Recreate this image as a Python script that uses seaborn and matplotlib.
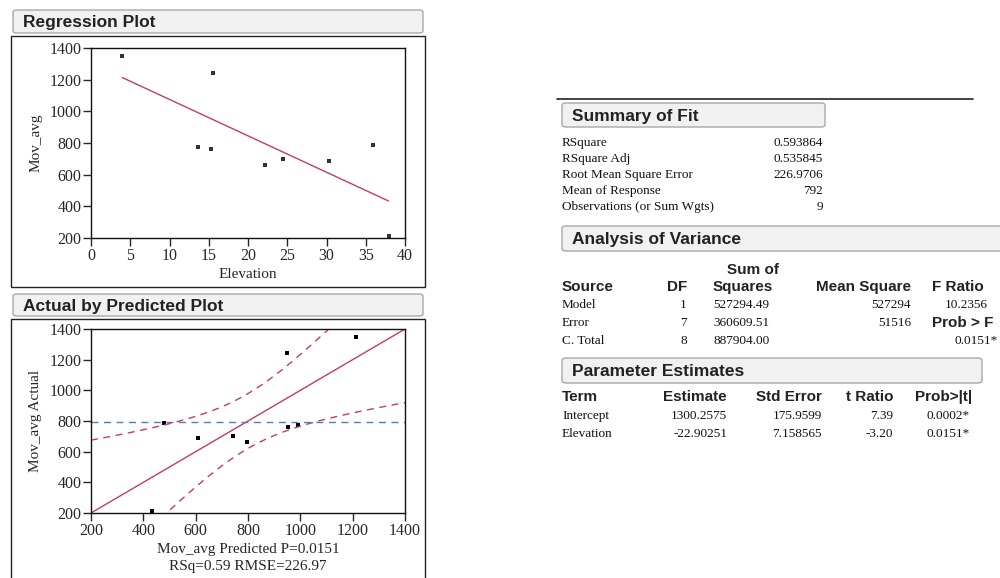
import numpy as np
import pandas as pd
import matplotlib
matplotlib.use("Agg")
import matplotlib.pyplot as plt
from matplotlib.patches import Rectangle, FancyBboxPatch
import seaborn as sns

# data
elevation = [4.0, 13.6, 15.3, 15.5, 22.2, 24.4, 30.3, 35.9, 37.9]
mov_avg = [1350, 772, 760, 1242, 660, 700, 688, 786, 210]

summary_labels = ["RSquare", "RSquare Adj", "Root Mean Square Error",
                  "Mean of Response", "Observations (or Sum Wgts)"]
summary_values = ["0.593864", "0.535845", "226.9706", "792", "9"]

anova_source = ["Model", "Error", "C. Total"]
anova_df = ["1", "7", "8"]
anova_ss = ["527294.49", "360609.51", "887904.00"]
anova_ms = ["527294", "51516", ""]
f_ratio = "10.2356"
prob_f = "0.0151*"

param_terms = ["Intercept", "Elevation"]
param_est = ["1300.2575", "-22.90251"]
param_se = ["175.9599", "7.158565"]
param_t = ["7.39", "-3.20"]
param_p = ["0.0002*", "0.0151*"]

t_crit = 2.3646  # t(0.975, 7 df)

RED = "#c43c5e"
BLUE = "#4f7fb5"

sns.set_style("ticks")
plt.rcParams["font.family"] = ["Liberation Serif", "DejaVu Serif"]

df = pd.DataFrame({"Elevation": elevation, "Mov_avg": mov_avg})
b1, b0 = np.polyfit(df["Elevation"], df["Mov_avg"], 1)
df["Predicted"] = b0 + b1 * df["Elevation"]

W, H = 1000, 578
fig = plt.figure(figsize=(10, 5.78), dpi=100)


def fx(px):
    return px / W


def fy(py):
    return 1 - py / H


def txt(x, y, s, ha="left", bold=False, size=9.5):
    if bold:
        fig.text(fx(x), fy(y), s, ha=ha, va="center", fontsize=size,
                 fontweight="bold", family=["Liberation Sans", "DejaVu Sans"], color="#222222")
    else:
        fig.text(fx(x), fy(y), s, ha=ha, va="center", fontsize=size, color="#111111")


def header(x0, y0, x1, y1, label):
    box = FancyBboxPatch((fx(x0), fy(y1)), fx(x1 - x0), (y1 - y0) / H,
                         boxstyle="round,pad=0,rounding_size=0.004",
                         transform=fig.transFigure, facecolor="#f1f1f1",
                         edgecolor="#a8a8a8", linewidth=1.0)
    fig.patches.append(box)
    txt(x0 + 10, (y0 + y1) / 2 + 1, label, bold=True, size=12.5)


def frame(x0, y0, x1, y1):
    fig.patches.append(Rectangle((fx(x0), fy(y1)), fx(x1 - x0), (y1 - y0) / H,
                                 transform=fig.transFigure, fill=False,
                                 edgecolor="#222222", linewidth=1.0))


def style_axes(ax):
    for sp in ax.spines.values():
        sp.set_linewidth(1.0)
        sp.set_color("#111111")
    ax.tick_params(direction="out", length=6, width=1, labelsize=11.5, pad=1)


# ---- Regression plot
header(13, 10, 423, 33, "Regression Plot")
frame(11, 36, 425, 287)
ax1 = fig.add_axes([fx(91), fy(238), fx(405 - 91), (238 - 48) / H])
sns.regplot(data=df, x="Elevation", y="Mov_avg", ci=None, ax=ax1, marker="s",
            scatter_kws={"s": 9, "color": "black", "linewidths": 0},
            line_kws={"color": RED, "linewidth": 1.0})
ax1.set_xlim(0, 40)
ax1.set_ylim(200, 1400)
ax1.set_xticks(range(0, 41, 5))
ax1.set_yticks(range(200, 1401, 200))
ax1.set_xlabel("Elevation", fontsize=11, labelpad=3)
ax1.set_ylabel("Mov_avg", fontsize=11, labelpad=5)
style_axes(ax1)

# ---- Actual by predicted plot
header(13, 294, 423, 316, "Actual by Predicted Plot")
frame(11, 319, 425, 590)
ax2 = fig.add_axes([fx(91), fy(513), fx(405 - 91), (513 - 329) / H])
n = len(df)
ybar = df["Mov_avg"].mean()
resid = df["Mov_avg"] - df["Predicted"]
s2 = (resid ** 2).sum() / (n - 2)
ssm = ((df["Predicted"] - ybar) ** 2).sum()
F = ssm / s2
z = np.linspace(200, 1400, 300)
half = np.sqrt(t_crit ** 2 * s2 / n + (t_crit ** 2 / F) * (z - ybar) ** 2)
ax2.plot(z, z, color=RED, linewidth=1.0)
ax2.plot(z, z + half, color=RED, linewidth=1.0, linestyle=(0, (5, 4)))
ax2.plot(z, z - half, color=RED, linewidth=1.0, linestyle=(0, (5, 4)))
ax2.axhline(ybar, color=BLUE, linewidth=1.0, linestyle=(0, (5, 4)))
sns.scatterplot(data=df, x="Predicted", y="Mov_avg", ax=ax2, s=9,
                color="black", marker="s", linewidth=0)
ax2.set_xlim(200, 1400)
ax2.set_ylim(200, 1400)
ax2.set_xticks(range(200, 1401, 200))
ax2.set_yticks(range(200, 1401, 200))
ax2.set_xlabel("Mov_avg Predicted P=0.0151\nRSq=0.59 RMSE=226.97", fontsize=11,
               labelpad=3, linespacing=1.4)
ax2.set_ylabel("Mov_avg Actual", fontsize=11, labelpad=5)
style_axes(ax2)

# ---- report tables on the right
fig.add_artist(plt.Line2D([fx(557), fx(973)], [fy(99), fy(99)],
                          transform=fig.transFigure, color="#222222", linewidth=1.2))

header(562, 103, 825, 127, "Summary of Fit")
for i, (lab, val) in enumerate(zip(summary_labels, summary_values)):
    yy = 143 + 16 * i
    txt(562, yy, lab)
    txt(823, yy, val, ha="right")

header(562, 226, 1010, 251, "Analysis of Variance")
txt(753, 270, "Sum of", ha="center", bold=True, size=11)
txt(562, 287, "Source", bold=True, size=11)
txt(687, 287, "DF", ha="right", bold=True, size=11)
txt(713, 287, "Squares", bold=True, size=11)
txt(911, 287, "Mean Square", ha="right", bold=True, size=11)
txt(932, 287, "F Ratio", bold=True, size=11)
for i in range(len(anova_source)):
    yy = 305 + 18 * i
    txt(562, yy, anova_source[i])
    txt(687, yy, anova_df[i], ha="right")
    txt(713, yy, anova_ss[i])
    txt(911, yy, anova_ms[i], ha="right")
txt(988, 305, f_ratio, ha="right")
txt(932, 323, "Prob > F", bold=True, size=11)
txt(998, 341, prob_f, ha="right")

header(562, 358, 982, 383, "Parameter Estimates")
txt(562, 397, "Term", bold=True, size=11)
txt(727, 397, "Estimate", ha="right", bold=True, size=11)
txt(822, 397, "Std Error", ha="right", bold=True, size=11)
txt(893, 397, "t Ratio", ha="right", bold=True, size=11)
txt(972, 397, "Prob>|t|", ha="right", bold=True, size=11)
for i in range(len(param_terms)):
    yy = 416 + 18 * i
    txt(562, yy, param_terms[i])
    txt(727, yy, param_est[i], ha="right")
    txt(822, yy, param_se[i], ha="right")
    txt(893, yy, param_t[i], ha="right")
    txt(970, yy, param_p[i], ha="right")

fig.savefig("out.png", dpi=100, facecolor="white")
